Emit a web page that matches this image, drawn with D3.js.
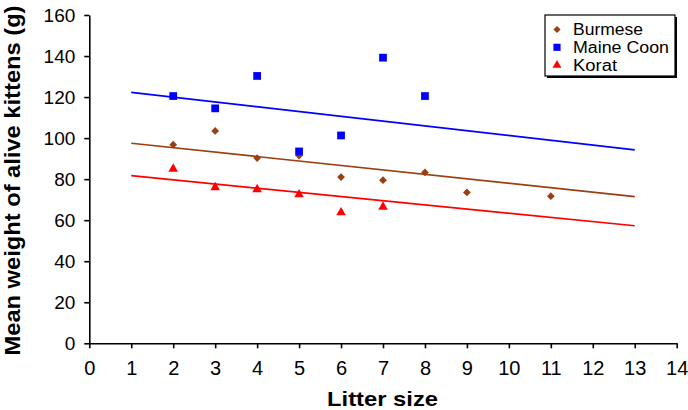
<!DOCTYPE html>
<html><head><meta charset="utf-8">
<script src="https://cdn.jsdelivr.net/npm/d3@7"></script>
<style>body{margin:0;background:#fff}svg{display:block}</style>
</head><body>
<svg id="c" width="688" height="410"></svg>
<script>
const burmeseX = [2,3,4,5,6,7,8,9,11];
const burmeseY = [96.8,103.5,90.3,91.5,81,79.5,83.3,73.5,71.7];
const maineX = [2,3,4,5,6,7,8];
const maineY = [120.5,114.5,130.3,93.5,101.3,139.2,120.5];
const koratX = [2,3,4,5,6,7];
const koratY = [85.0,76,75,72.5,63.7,66.5];
const trendX = [1,13];
const burmeseTrend = [97.5,71.5];
const maineTrend = [122.3,94.3];
const koratTrend = [81.7,57.3];
const xTicks = d3.range(0,15,1);
const yTicks = d3.range(0,161,20);
const seriesNames = ["Burmese","Maine Coon","Korat"];
const seriesColors = ["#9b3f10","#0000ff","#ff0000"];
const trendColors = ["#9b3f10","#0000ff","#ff0000"];

const svg = d3.select("#c");
const x = d3.scaleLinear().domain([0,14]).range([89.3,676.7]);
const y = d3.scaleLinear().domain([0,160]).range([343.3,15]);
const font = "Liberation Sans, Arial, sans-serif";

const xa = svg.append("g").attr("transform","translate(0,343.3)")
  .call(d3.axisBottom(x).tickValues(xTicks).tickSize(5).tickSizeOuter(0).tickPadding(13));
const ya = svg.append("g").attr("transform","translate(89.3,0)")
  .call(d3.axisLeft(y).tickValues(yTicks).tickSize(5).tickSizeOuter(0).tickPadding(9));
[xa,ya].forEach(a=>{
  a.selectAll("path,line").attr("stroke","#000").attr("stroke-width",1.6);
  a.selectAll("text").attr("font-family",font).attr("fill","#000");
});
xa.selectAll("text").attr("font-size",20);
ya.selectAll("text").attr("font-size",19);

const series = [
  {xs:burmeseX, ys:burmeseY, tr:burmeseTrend},
  {xs:maineX, ys:maineY, tr:maineTrend},
  {xs:koratX, ys:koratY, tr:koratTrend}
];
const symbols = [d3.symbolSquare, d3.symbolSquare, d3.symbolTriangle];
const rots = [45, 0, 0];
const sizes = [30, 60, 40];

series.forEach((s,i)=>{
  svg.append("line")
    .attr("x1",x(trendX[0])).attr("y1",y(s.tr[0]))
    .attr("x2",x(trendX[1])).attr("y2",y(s.tr[1]))
    .attr("stroke",trendColors[i]).attr("stroke-width",1.7);
});
series.forEach((s,i)=>{
  svg.append("g").selectAll("path").data(s.xs).join("path")
    .attr("d",d3.symbol().type(symbols[i]).size(sizes[i]))
    .attr("transform",(d,j)=>`translate(${x(d)},${y(s.ys[j])}) rotate(${rots[i]})`)
    .attr("fill",seriesColors[i]);
});

// legend
const lg = svg.append("g");
lg.append("rect").attr("x",547).attr("y",17).attr("width",130).attr("height",61).attr("fill","#000");
lg.append("rect").attr("x",545).attr("y",15).attr("width",130).attr("height",61).attr("fill","#fff").attr("stroke","#000").attr("stroke-width",1.2);
const legW = [70, 96, 44];
seriesNames.forEach((n,i)=>{
  const yy = 29.5 + i*17.8;
  lg.append("path").attr("d",d3.symbol().type(symbols[i]).size(sizes[i]*0.85))
    .attr("transform",`translate(557,${yy}) rotate(${rots[i]})`).attr("fill",seriesColors[i]);
  lg.append("text").attr("x",573).attr("y",yy+5.7).attr("font-family",font).attr("font-size",16)
    .attr("textLength",legW[i]).attr("lengthAdjust","spacingAndGlyphs").text(n);
});

svg.append("text").attr("x",382.5).attr("y",406).attr("text-anchor","middle")
  .attr("font-family",font).attr("font-weight","bold").attr("font-size",21)
  .attr("textLength",111).attr("lengthAdjust","spacingAndGlyphs").text("Litter size");
svg.append("text").attr("transform","translate(20,180.5) rotate(-90)").attr("text-anchor","middle")
  .attr("font-family",font).attr("font-weight","bold").attr("font-size",22.5)
  .attr("textLength",350).attr("lengthAdjust","spacingAndGlyphs").text("Mean weight of alive kittens (g)");
</script>
</body></html>
